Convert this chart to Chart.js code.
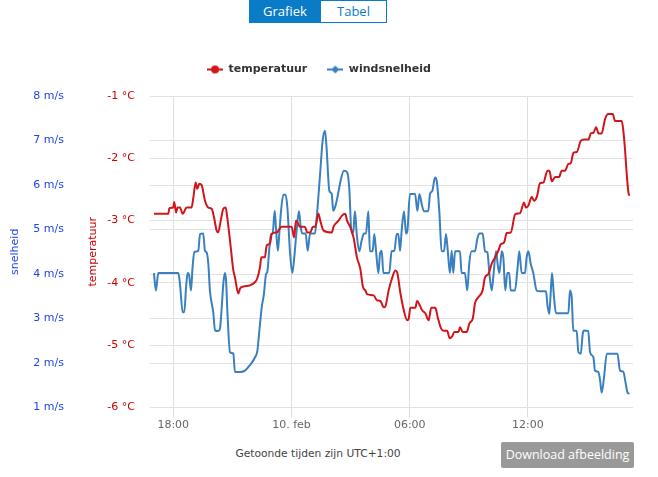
<!DOCTYPE html>
<html>
<head>
<meta charset="utf-8">
<script src="https://cdn.jsdelivr.net/npm/chart.js@4.4.0/dist/chart.umd.min.js"></script>
<style>
    html, body { margin: 0; padding: 0; background: #fff; }
    body { width: 658px; height: 477px; position: relative; overflow: hidden; font-family: "DejaVu Sans", sans-serif; }
    #knoppen { position: absolute; left: 249px; top: 0; display: flex; font-family: "Open Sans", sans-serif; font-size: 13px; }
    #knoppen div { height: 23px; line-height: 21px; text-align: center; box-sizing: border-box; border: 1px solid #0a7cc7; }
    #btnGrafiek { width: 72px; background: #0a7cc7; color: #fff; }
    #btnTabel { width: 66px; background: #fff; color: #0a7cc7; border-left: none !important; }
    #grafiek-container { position: absolute; left: 0; top: 0; width: 658px; height: 440px; }
    #tijdzone { position: absolute; left: 0; width: 636px; top: 447px; text-align: center; font-size: 10.7px; color: #444; }
    #download { position: absolute; left: 501px; top: 442px; width: 133px; height: 26px; line-height: 26px; background: #999; color: #fff; text-align: center; font-family: "Open Sans", sans-serif; font-size: 12.5px; border-radius: 2px; }
</style>
</head>
<body>
<div id="knoppen"><div id="btnGrafiek">Grafiek</div><div id="btnTabel">Tabel</div></div>
<div id="grafiek-container"><canvas id="grafiekWeer"></canvas></div>
<div id="tijdzone">Getoonde tijden zijn UTC+1:00</div>
<div id="download">Download afbeelding</div>
<script>
// tijden in uren vanaf 9 feb 00:00 (lokale tijd)
var tijdTemp = [17.02, 17.75, 17.80, 18.00, 18.05, 18.14, 18.22, 18.34, 18.48, 18.68, 18.93, 19.02, 19.14, 19.22, 19.32, 19.44,
    19.61, 19.78, 19.95, 20.07, 20.20, 20.28, 20.41, 20.54, 20.66, 20.74, 20.88, 21.05, 21.13, 21.30, 21.39, 21.55,
    21.89, 22.14, 22.26, 22.40, 22.47, 22.65, 22.74, 22.91, 23.00, 23.25, 23.50, 24.01, 24.13, 24.23, 24.43, 24.68,
    24.80, 24.95, 25.09, 25.20, 25.37, 25.46, 25.63, 26.05, 26.13, 26.39, 26.56, 26.73, 26.82, 26.98, 27.15, 27.32,
    27.49, 27.63, 27.75, 27.83, 28.17, 28.34, 28.51, 28.68, 28.76, 28.93, 29.10, 29.27, 29.36, 29.53, 29.70, 29.87,
    29.95, 30.03, 30.29, 30.37, 30.51, 30.63, 30.80, 30.96, 31.09, 31.30, 31.42, 31.59, 31.73, 31.90, 32.03, 32.15,
    32.27, 32.47, 32.55, 32.69, 32.89, 33.03, 33.20, 33.31, 33.48, 33.70, 33.82, 33.99, 34.16, 34.33, 34.50, 34.62,
    34.79, 34.92, 35.13, 35.35, 35.60, 35.80, 35.89, 36.02, 36.19, 36.31, 36.45, 36.61, 36.78, 36.99, 37.09, 37.21,
    37.38, 37.58, 37.71, 37.88, 38.05, 38.17, 38.31, 38.48, 38.68, 38.85, 39.07, 39.19, 39.32, 39.46, 39.58, 39.74,
    39.91, 40.08, 40.30, 40.42, 40.76, 40.84, 40.93, 41.01, 41.10, 41.15];
var temperatuur = [-2.89, -2.89, -2.80, -2.79, -2.70, -2.87, -2.79, -2.79, -2.89, -2.79, -2.79, -2.63, -2.39, -2.49, -2.41, -2.43,
    -2.68, -2.79, -2.81, -2.95, -3.16, -3.19, -3.00, -2.81, -2.79, -2.95, -3.32, -3.80, -3.91, -4.17, -4.09, -4.06,
    -4.04, -3.99, -3.93, -3.75, -3.59, -3.59, -3.40, -3.37, -3.21, -3.19, -3.10, -3.10, -3.27, -3.00, -3.10, -3.10,
    -3.19, -3.19, -3.10, -3.10, -2.89, -3.00, -3.16, -3.19, -3.10, -3.00, -2.92, -2.89, -3.00, -3.10, -3.27, -3.59,
    -3.77, -4.07, -4.12, -4.18, -4.20, -4.28, -4.29, -4.39, -4.38, -4.12, -3.93, -3.80, -3.83, -4.17, -4.44, -4.60,
    -4.57, -4.40, -4.40, -4.29, -4.36, -4.44, -4.49, -4.60, -4.40, -4.40, -4.55, -4.73, -4.77, -4.77, -4.89, -4.86,
    -4.79, -4.79, -4.71, -4.79, -4.79, -4.65, -4.57, -4.33, -4.23, -4.12, -3.91, -3.86, -3.69, -3.59, -3.48, -3.38,
    -3.35, -3.20, -3.19, -2.90, -2.88, -2.71, -2.79, -2.76, -2.62, -2.68, -2.62, -2.40, -2.39, -2.20, -2.20, -2.37,
    -2.30, -2.30, -2.20, -2.20, -2.09, -2.08, -1.91, -1.90, -1.72, -1.70, -1.70, -1.60, -1.59, -1.50, -1.60, -1.60,
    -1.37, -1.29, -1.29, -1.40, -1.40, -1.56, -1.88, -2.25, -2.55, -2.60];

var tijdWind = [17.02, 17.12, 17.24, 18.26, 18.34, 18.48, 18.56, 18.65, 18.73, 18.81, 18.90, 18.98, 19.07, 19.27, 19.36, 19.52,
    19.61, 19.69, 19.78, 19.86, 20.03, 20.12, 20.29, 20.37, 20.46, 20.54, 20.62, 20.68, 20.76, 20.88, 21.05, 21.13,
    21.39, 21.64, 21.89, 22.15, 22.27, 22.37, 22.49, 22.60, 22.71, 22.77, 22.88, 22.96, 23.04, 23.15, 23.21, 23.31,
    23.38, 23.47, 23.59, 23.70, 23.79, 23.92, 24.04, 24.14, 24.26, 24.38, 24.47, 24.55, 24.72, 24.82, 24.94, 25.02,
    25.19, 25.28, 25.45, 25.58, 25.70, 25.78, 25.92, 26.04, 26.12, 26.21, 26.33, 26.49, 26.66, 26.83, 26.93, 27.05,
    27.14, 27.22, 27.31, 27.44, 27.56, 27.68, 27.78, 27.90, 27.98, 28.12, 28.20, 28.29, 28.41, 28.49, 28.58, 28.66,
    28.96, 29.08, 29.22, 29.34, 29.42, 29.51, 29.59, 29.71, 29.81, 29.88, 30.01, 30.27, 30.39, 30.49, 30.61, 30.72,
    30.94, 31.03, 31.15, 31.28, 31.37, 31.50, 31.62, 31.74, 31.84, 31.93, 32.04, 32.13, 32.21, 32.30, 32.47, 32.55,
    32.63, 32.80, 32.92, 33.02, 33.14, 33.31, 33.43, 33.53, 33.70, 33.82, 33.94, 34.04, 34.16, 34.24, 34.38, 34.46,
    34.55, 34.67, 34.75, 34.85, 34.95, 35.05, 35.12, 35.34, 35.46, 35.56, 35.68, 35.85, 35.93, 36.02, 36.14, 36.27,
    36.44, 36.61, 36.92, 36.98, 37.08, 37.15, 37.22, 37.32, 37.42, 37.80, 38.05, 38.13, 38.22, 38.30, 38.47, 38.56,
    38.68, 38.78, 38.84, 39.06, 39.15, 39.32, 39.40, 39.57, 39.66, 39.74, 39.86, 40.00, 40.33, 40.54, 40.67, 40.84,
    40.96, 41.06, 41.15];
var windsnelheid = [4.02, 3.63, 4.02, 4.02, 3.78, 3.14, 3.14, 3.70, 4.02, 3.96, 3.63, 4.15, 4.49, 4.52, 4.90, 4.91,
    4.52, 4.49, 4.23, 3.63, 3.14, 2.73, 2.72, 2.77, 3.25, 3.78, 4.02, 3.85, 3.03, 2.24, 2.21, 1.80,
    1.80, 1.83, 1.95, 2.13, 2.28, 2.73, 3.25, 3.55, 4.00, 4.04, 4.60, 4.90, 4.90, 5.42, 5.05, 4.52,
    4.90, 5.42, 5.78, 5.78, 5.50, 4.52, 4.02, 4.37, 4.97, 5.41, 5.05, 4.91, 4.91, 4.52, 4.90, 4.91,
    4.91, 5.27, 6.24, 6.99, 7.22, 6.84, 5.87, 5.80, 5.42, 5.50, 5.72, 6.09, 6.32, 6.28, 5.94, 4.91,
    4.97, 5.41, 4.90, 4.51, 4.75, 4.91, 4.91, 5.41, 4.51, 4.51, 4.90, 4.52, 4.02, 4.45, 4.52, 4.02,
    4.02, 4.51, 4.52, 4.90, 4.90, 4.52, 4.97, 5.41, 4.91, 4.97, 5.80, 5.80, 5.42, 5.80, 5.57, 5.41,
    5.41, 5.80, 5.87, 6.17, 6.09, 5.42, 4.52, 4.51, 4.90, 4.52, 4.02, 4.52, 4.02, 4.51, 4.51, 4.51,
    4.02, 4.02, 3.63, 4.23, 4.51, 4.51, 4.79, 4.91, 4.91, 4.51, 4.49, 4.02, 3.63, 3.93, 4.51, 4.23,
    4.02, 4.51, 4.37, 3.63, 4.02, 4.02, 3.63, 3.63, 4.08, 4.51, 4.02, 4.02, 4.37, 4.51, 4.23, 4.02,
    3.63, 3.61, 3.61, 3.33, 3.10, 3.55, 4.02, 3.48, 3.12, 3.12, 3.12, 3.63, 3.48, 2.73, 2.72, 2.24,
    2.21, 2.66, 2.73, 2.72, 2.24, 2.13, 1.83, 1.80, 1.61, 1.33, 1.68, 2.21, 2.21, 2.21, 1.83, 1.80,
    1.54, 1.33, 1.31];

var tickWaarden = [18, 24, 30, 36];
var tickLabels = ['18:00', '10. feb', '06:00', '12:00'];

var roodLijn = '#d0151b';
var blauwLijn = '#3a80c0';
var roodAs = '#cc0000';
var blauwAs = '#1f45ea';

var maakMarker = function (kleur, vorm) {
    var c = document.createElement('canvas');
    c.width = 16;
    c.height = 10;
    var ctx = c.getContext('2d');
    ctx.strokeStyle = kleur;
    ctx.lineWidth = 2;
    ctx.beginPath();
    ctx.moveTo(0, 5);
    ctx.lineTo(16, 5);
    ctx.stroke();
    ctx.fillStyle = kleur;
    ctx.beginPath();
    if (vorm === 'cirkel') {
        ctx.arc(8, 5, 4, 0, Math.PI * 2);
    } else {
        ctx.moveTo(8, 1);
        ctx.lineTo(12, 5);
        ctx.lineTo(8, 9);
        ctx.lineTo(4, 5);
        ctx.closePath();
    }
    ctx.fill();
    return c;
};

var punten = function (tijden, waarden) {
    var res = [];
    for (let i = 0; i < tijden.length; i++) {
        res.push({x: tijden[i], y: waarden[i]});
    }
    return res;
};

// extra ruimte onder de legenda
var legendaRuimte = {
    id: 'legendaRuimte',
    beforeInit: function (chart) {
        var origFit = chart.legend.fit;
        chart.legend.fit = function () {
            origFit.bind(chart.legend)();
            this.height += 11;
        };
    }
};

new Chart(document.getElementById('grafiekWeer').getContext('2d'), {
    type: 'line',
    plugins: [legendaRuimte],
    data: {
        datasets: [{
            label: 'temperatuur',
            data: punten(tijdTemp, temperatuur),
            yAxisID: 'yTemp',
            borderColor: roodLijn,
            backgroundColor: roodLijn,
            borderWidth: 2,
            pointRadius: 0,
            pointStyle: maakMarker(roodLijn, 'cirkel'),
            cubicInterpolationMode: 'monotone',
            fill: false
        }, {
            label: 'windsnelheid',
            data: punten(tijdWind, windsnelheid),
            yAxisID: 'yWind',
            borderColor: blauwLijn,
            backgroundColor: blauwLijn,
            borderWidth: 2,
            pointRadius: 0,
            pointStyle: maakMarker(blauwLijn, 'ruit'),
            cubicInterpolationMode: 'monotone',
            fill: false
        }]
    },
    options: {
        responsive: true,
        maintainAspectRatio: false,
        animation: false,
        layout: {padding: {left: 5, right: 25, top: 44, bottom: 0}},
        plugins: {
            tooltip: {enabled: false},
            legend: {
                position: 'top',
                labels: {
                    usePointStyle: true,
                    pointStyleWidth: 16,
                    padding: 20,
                    color: '#333',
                    font: {family: 'DejaVu Sans', size: 11, weight: 'bold'}
                }
            }
        },
        scales: {
            x: {
                type: 'linear',
                min: 16.82,
                max: 41.33,
                afterBuildTicks: function (s) {
                    s.ticks = tickWaarden.map(function (v) { return {value: v}; });
                },
                afterFit: function (s) { s.height = 32.5; },
                grid: {color: '#dddddd', drawTicks: true, tickLength: 10},
                border: {display: false},
                ticks: {
                    padding: 1,
                    color: '#666',
                    font: {family: 'DejaVu Sans', size: 11},
                    maxRotation: 0,
                    callback: function (v) {
                        var i = tickWaarden.indexOf(v);
                        return i >= 0 ? tickLabels[i] : '';
                    }
                }
            },
            yTemp: {
                position: 'left',
                weight: 0,
                min: -6,
                max: -1,
                afterFit: function (s) { s.width = 78; },
                grid: {color: '#e2e2e2', drawTicks: false},
                border: {display: false},
                title: {display: true, text: 'temperatuur', color: roodAs, padding: {top: 14.4, bottom: 0},
                    font: {family: 'DejaVu Sans', size: 11}},
                ticks: {
                    stepSize: 1,
                    padding: 15,
                    color: roodAs,
                    font: {family: 'DejaVu Sans', size: 11},
                    callback: function (v) { return v + ' °C'; }
                }
            },
            yWind: {
                position: 'left',
                weight: 1,
                min: 1,
                max: 8,
                afterFit: function (s) { s.width = 67; },
                grid: {color: '#e2e2e2', drawTicks: false},
                border: {display: false},
                title: {display: true, text: 'snelheid', color: blauwAs, padding: {top: 4, bottom: 0},
                    font: {family: 'DejaVu Sans', size: 11}},
                ticks: {
                    stepSize: 1,
                    padding: 8,
                    color: blauwAs,
                    font: {family: 'DejaVu Sans', size: 11},
                    callback: function (v) { return v + ' m/s'; }
                }
            }
        }
    }
});
</script>
</body>
</html>
